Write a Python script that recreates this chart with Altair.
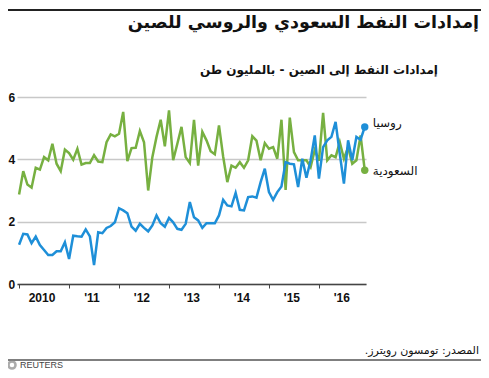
import altair as alt
import pandas as pd

title = "إمدادات النفط السعودي والروسي للصين"
subtitle = "إمدادات النفط إلى الصين - بالمليون طن"
source = "المصدر: تومسون رويترز.\u200f"
series_names = ["السعودية", "روسيا"]
year_labels = ["2010", "'11", "'12", "'13", "'14", "'15", "'16"]
year_label_pos = [5.5, 17.5, 29.5, 41.5, 53.5, 65.5, 77.5]
year_ticks = [0, 12, 24, 36, 48, 60, 72]
y_ticks = [0, 2, 4, 6]

# monthly, Jan 2010 .. Dec 2016 (million tonnes)
saudi = [
    2.87, 3.62, 3.19, 3.09, 3.73, 3.67, 4.07, 3.97, 4.50, 3.86, 3.62, 4.31,
    4.20, 3.99, 4.34, 3.83, 3.88, 3.88, 4.13, 3.93, 3.91, 4.55, 4.80, 4.74,
    4.82, 5.52, 3.94, 4.36, 4.37, 4.91, 4.55, 3.00, 4.07, 4.72, 5.27, 4.42,
    5.57, 3.97, 4.50, 5.04, 4.07, 3.88, 5.27, 3.80, 4.88, 4.61, 4.26, 4.16,
    5.09, 4.09, 3.27, 3.80, 3.73, 3.91, 3.73, 3.97, 4.74, 4.60, 3.97, 4.52,
    4.34, 4.39, 4.02, 5.27, 3.02, 5.34, 4.23, 3.97, 3.97, 3.97, 3.75, 4.30,
    3.95, 5.49, 3.97, 4.13, 4.07, 4.55, 4.02, 4.39, 3.86, 3.97, 4.77, 3.65,
]
russia = [
    1.26, 1.61, 1.59, 1.31, 1.52, 1.25, 1.09, 0.93, 0.93, 1.05, 1.05, 1.34,
    0.80, 1.55, 1.53, 1.52, 1.75, 1.53, 0.61, 1.66, 1.63, 1.80, 1.86, 1.98,
    2.43, 2.36, 2.27, 1.84, 1.71, 1.93, 1.80, 1.69, 1.88, 2.20, 1.95, 1.84,
    2.12, 1.98, 1.77, 1.74, 1.93, 2.63, 2.14, 2.04, 1.80, 1.95, 1.95, 1.95,
    2.20, 2.70, 2.52, 2.49, 2.92, 2.38, 2.36, 2.79, 2.81, 2.77, 3.27, 3.70,
    2.95, 2.70, 2.95, 3.13, 3.91, 3.86, 3.84, 3.11, 4.02, 3.41, 3.97, 4.77,
    3.38, 4.39, 4.61, 4.72, 5.20, 4.18, 3.22, 4.61, 3.97, 4.72, 4.63, 5.04,
]
colors = ["#77b041", "#1e8fd8"]

n = len(saudi)
df = pd.DataFrame({
    "m": list(range(n)) * 2,
    "v": saudi + russia,
    "s": [series_names[0]] * n + [series_names[1]] * n,
})
df_last = df[df["m"] == n - 1]
df_years = pd.DataFrame({"m": year_label_pos, "t": year_labels})

AR = "DejaVu Sans"
LAT = "Liberation Sans"

xs = alt.Scale(domain=[-0.5, 83.3], nice=False, zero=False)
ys = alt.Scale(domain=[0, 6], nice=False)
cs = alt.Scale(domain=series_names, range=colors)

base = alt.Chart(df)
lines = base.mark_line(strokeWidth=2.5).encode(
    x=alt.X("m:Q", scale=xs, axis=alt.Axis(
        values=year_ticks, labels=False, ticks=True, tickSize=4, tickWidth=1,
        tickColor="#444", grid=False, domainColor="#444", domainWidth=1.5, title=None)),
    y=alt.Y("v:Q", scale=ys, axis=alt.Axis(
        values=y_ticks, grid=True, gridColor="#c8c8c8", gridWidth=1.5, domain=False,
        ticks=False, tickSize=0, labelAlign="left", labelPadding=9, labelFont=LAT,
        labelFontWeight="bold", labelFontSize=12, labelColor="#111", title=None)),
    color=alt.Color("s:N", scale=cs, legend=None),
)
dots = alt.Chart(df_last).mark_point(filled=True, size=55, opacity=1).encode(
    x=alt.X("m:Q", scale=xs), y=alt.Y("v:Q", scale=ys),
    color=alt.Color("s:N", scale=cs, legend=None),
)
lab_ru = alt.Chart(df_last[df_last["s"] == series_names[1]]).mark_text(
    align="left", baseline="middle", dx=8, dy=-4, font=AR, fontSize=12, color="#111"
).encode(x=alt.X("m:Q", scale=xs), y=alt.Y("v:Q", scale=ys), text="s:N")
lab_sa = alt.Chart(df_last[df_last["s"] == series_names[0]]).mark_text(
    align="left", baseline="middle", dx=8, dy=1, font=AR, fontSize=12, color="#111"
).encode(x=alt.X("m:Q", scale=xs), y=alt.Y("v:Q", scale=ys), text="s:N")

yl = alt.Chart(df_years).mark_text(
    align="center", baseline="middle", font=LAT, fontSize=12, fontWeight="bold", color="#111"
).encode(x=alt.X("m:Q", scale=xs), y=alt.value(201), text="t:N")

one = pd.DataFrame({"a": [0]})
title_t = alt.Chart(one).mark_text(
    align="right", baseline="middle", font=AR, fontSize=17.5, fontWeight="bold", color="#111"
).encode(x=alt.value(462), y=alt.value(-74), text=alt.value(title))
sub_t = alt.Chart(one).mark_text(
    align="right", baseline="middle", font=AR, fontSize=12, fontWeight="bold", color="#111"
).encode(x=alt.value(421), y=alt.value(-27), text=alt.value(subtitle))
src_t = alt.Chart(one).mark_text(
    align="right", baseline="middle", font=AR, fontSize=11, color="#111"
).encode(x=alt.value(462), y=alt.value(254), text=alt.value(source))
top_rule = alt.Chart(one).mark_rule(color="#222", strokeWidth=2).encode(
    x=alt.value(-9), x2=alt.value(464), y=alt.value(-87))
foot_rule = alt.Chart(one).mark_rule(color="#555", strokeWidth=1.5).encode(
    x=alt.value(-9), x2=alt.value(464), y=alt.value(263))
logo = alt.Chart(one).mark_point(shape="circle", filled=False, size=50, color="#888", strokeWidth=2.5).encode(
    x=alt.value(-5), y=alt.value(268))
reuters = alt.Chart(one).mark_text(
    align="left", baseline="middle", font=LAT, fontSize=9, color="#444"
).encode(x=alt.value(3), y=alt.value(268), text=alt.value("REUTERS"))

chart = alt.layer(
    lines, dots, lab_ru, lab_sa, yl, title_t, sub_t, src_t, top_rule, foot_rule, logo, reuters
).properties(
    width=349, height=187,
    autosize=alt.AutoSizeParams(type="none"),
    padding={"left": 9, "top": 89, "right": 115, "bottom": 86},
).configure_view(stroke=None)

chart.save("out.html", embed_options={"renderer": "svg", "actions": False})
